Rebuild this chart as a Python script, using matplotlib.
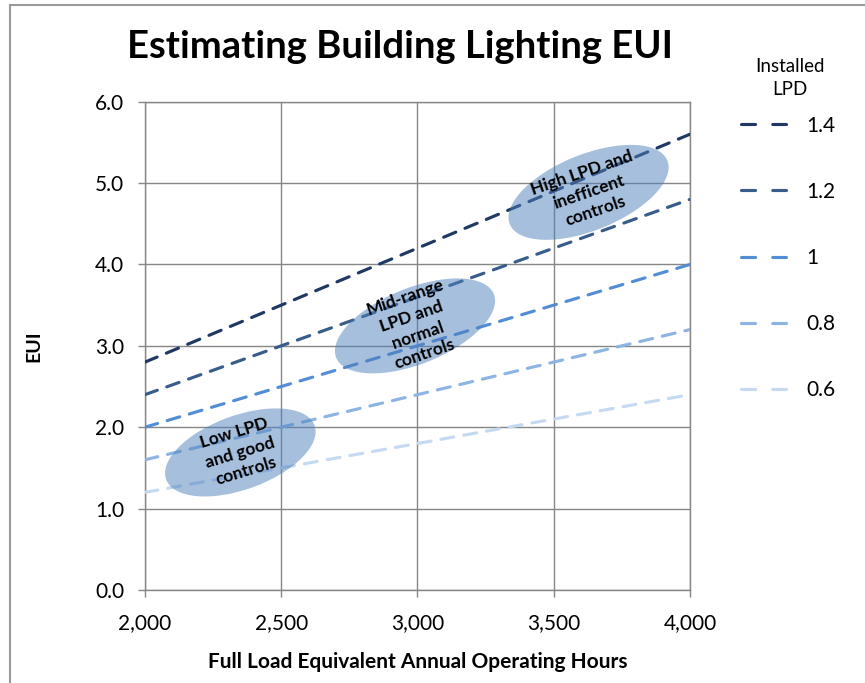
import matplotlib
matplotlib.use("Agg")
import matplotlib.pyplot as plt
import matplotlib.transforms as mtransforms
from matplotlib.patches import Ellipse
from matplotlib.lines import Line2D

plt.rcParams["font.family"] = ["Lato", "DejaVu Sans"]

# operating hours at each end of the lines
hours = [2000, 4000]

# installed lighting power density and the resulting EUI at 2,000 and 4,000 h
lpd_labels = ["1.4", "1.2", "1", "0.8", "0.6"]
eui_14 = [2.8, 5.6]
eui_12 = [2.4, 4.8]
eui_10 = [2.0, 4.0]
eui_08 = [1.6, 3.2]
eui_06 = [1.2, 2.4]
series = [eui_14, eui_12, eui_10, eui_08, eui_06]
colors = ["#1F3864", "#385D8A", "#538DD5", "#8DB4E2", "#C5D9F1"]

# annotated regions: (hours, EUI) centre and caption
region_centers = [(2350, 1.69), (2991, 3.245), (3628, 4.886)]
region_texts = ["Low LPD\nand good\ncontrols",
                "Mid-range\nLPD and\nnormal\ncontrols",
                "High LPD and\ninefficent\ncontrols"]

GRID = "#868686"

fig = plt.figure(figsize=(8.65, 6.83), dpi=100)
ax = fig.add_axes([0.1676, 0.1362, 0.63, 0.7149])

for vals, col in zip(series, colors):
    ax.plot(hours, vals, color=col, lw=2.25, dashes=(4.2, 3.2),
            dash_capstyle="round", solid_capstyle="round", zorder=3)

# shaded ellipses sized in pixels so their shape is independent of axis scale
sizes = [(158, 74, 20), (170, 76, 22), (170, 76, 22)]
for (cx, cy), (w, h, ang), txt in zip(region_centers, sizes, region_texts):
    tr = fig.dpi_scale_trans + mtransforms.ScaledTranslation(cx, cy, ax.transData)
    ax.add_patch(Ellipse((0, 0), w / 100, h / 100, angle=ang, transform=tr,
                         facecolor="#4F81BD", alpha=0.5, edgecolor="none", zorder=4))
    ax.text(cx, cy, txt, ha="center", va="center", rotation=ang - 3,
            rotation_mode="anchor", fontsize=12.5, fontweight="bold",
            linespacing=1.3, zorder=5)

ax.set_xlim(2000, 4000)
ax.set_ylim(0, 6)
ax.set_xticks([2000, 2500, 3000, 3500, 4000])
ax.set_xticklabels(["2,000", "2,500", "3,000", "3,500", "4,000"])
ax.set_yticks([0, 1, 2, 3, 4, 5, 6])
ax.set_yticklabels([f"{v:.1f}" for v in range(7)])
ax.grid(True, color=GRID, lw=1)
ax.set_axisbelow(True)
for sp in ax.spines.values():
    sp.set_color(GRID)
    sp.set_linewidth(1)
ax.tick_params(colors=GRID, labelcolor="black", labelsize=15, length=5,
               width=1)
ax.tick_params(axis="x", pad=12)
ax.tick_params(axis="y", pad=10)

ax.set_xlabel("Full Load Equivalent Annual Operating Hours", fontsize=15,
              fontweight="bold", labelpad=13)
ax.set_ylabel("EUI", fontsize=14, fontweight="bold", labelpad=38)

fig.text(0.463, 0.931, "Estimating Building Lighting EUI", ha="center",
         va="center", fontsize=27.5, fontweight="bold")

# legend title sits above the entries, centred over them
fig.text(790 / 865, 1 - 78 / 683, "Installed\nLPD", ha="center", va="center",
         fontsize=13.5, linespacing=1.45)
handles = [Line2D([], [], color=c, lw=2.25, dashes=(4.5, 5.5),
                  dash_capstyle="round") for c in colors]
fig.legend(handles, lpd_labels, loc="center left",
           bbox_to_anchor=(0.835, 1 - 258 / 683),
           frameon=False, fontsize=15,
           handlelength=2.15, labelspacing=2.22, handletextpad=1.0)

# chart frame
fig.add_artist(Line2D([10 / 865, 1], [1 - 4.5 / 683] * 2, color="#9a9a9a",
                      lw=1.5, transform=fig.transFigure))
fig.add_artist(Line2D([10 / 865] * 2, [0, 1 - 4.5 / 683], color="#9a9a9a",
                      lw=1.5, transform=fig.transFigure))

fig.savefig("out.png", dpi=100)
